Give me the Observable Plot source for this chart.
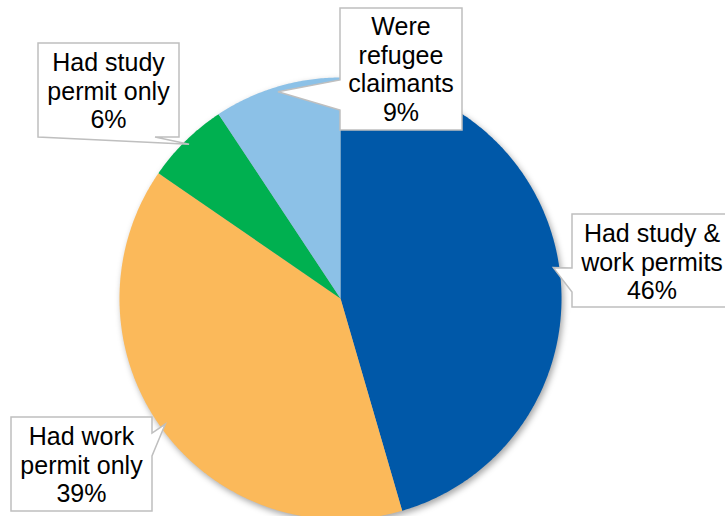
<!DOCTYPE html>
<html>
<head>
<meta charset="utf-8">
<script src="https://cdn.jsdelivr.net/npm/d3@7"></script>
<script src="https://cdn.jsdelivr.net/npm/@observablehq/plot@0.6"></script>
<style>
  html, body { margin: 0; padding: 0; background: #fff; }
  #chart svg { display: block; }
  #chart g[aria-label="line"] { filter: drop-shadow(2px 3px 3px rgba(0,0,0,0.35)); }
</style>
</head>
<body>
<div id="chart"></div>
<script>
// ---- data ----
const categories = ["Had study & work permits", "Had work permit only", "Had study permit only", "Were refugee claimants"];
const labelLines = [["Had study &", "work permits"], ["Had work", "permit only"], ["Had study", "permit only"], ["Were", "refugee", "claimants"]];
const values = [45.5, 39.1, 6.1, 9.3];
const colors = ["#0058A8", "#FBB95A", "#00B050", "#8CC1E7"];

// ---- layout (pixels) for the callout boxes; "TIP" = where the wedge points ----
const calloutShapes = [
  [[572,214],[732,214],[732,307],[572,307],[572,292],"TIP",[572,268]],
  [[11,417],[152,417],[152,433],"TIP",[152,456],[152,511],[11,511]],
  [[38,43],[179,43],[179,137],[155,137],"TIP",[38,137]],
  [[340,8],[462,8],[462,130],[340,130],[340,110],"TIP",[340,80]]
];
const calloutText = [[652,242],[81.5,445],[108.5,71],[401,35]]; // centre x, first baseline
const lineStep = 28.5;

// ---- geometry from data (unit circle, clockwise from 12 o'clock) ----
const total = d3.sum(values);
const slices = [];
let acc = 0;
values.forEach((v, i) => {
  const a0 = acc / total * 2 * Math.PI;
  acc += v;
  const a1 = acc / total * 2 * Math.PI;
  slices.push({i, a0, a1, mid: (a0 + a1) / 2});
});
const pts = [];
for (const s of slices) {
  pts.push({cat: categories[s.i], x: 0, y: 0});
  const n = Math.max(2, Math.ceil((s.a1 - s.a0) / (Math.PI / 360)));
  for (let k = 0; k <= n; k++) {
    const a = s.a0 + (s.a1 - s.a0) * k / n;
    pts.push({cat: categories[s.i], x: Math.sin(a), y: Math.cos(a)});
  }
  pts.push({cat: categories[s.i], x: 0, y: 0});
}

function callouts(index, scales) {
  const sx = scales.x, sy = scales.y;
  const g = d3.create("svg:g");
  slices.forEach((s, j) => {
    const tip = [sx(Math.sin(s.mid) * 0.975), sy(Math.cos(s.mid) * 0.975)];
    const poly = calloutShapes[j].map(p => p === "TIP" ? tip : p);
    g.append("path")
      .attr("d", "M" + poly.map(p => p.join(",")).join("L") + "Z")
      .attr("fill", "#fff")
      .attr("stroke", "#BFBFBF")
      .attr("stroke-width", 1.5);
    const lines = [...labelLines[j], Math.round(values[j]) + "%"];
    const [cx, by] = calloutText[j];
    lines.forEach((t, k) => {
      g.append("text")
        .attr("x", cx).attr("y", by + k * lineStep)
        .attr("text-anchor", "middle")
        .attr("font-family", "Liberation Sans, Arial, sans-serif")
        .attr("font-size", 25)
        .attr("fill", "#000")
        .text(t);
    });
  });
  return g.node();
}

const plot = Plot.plot({
  width: 725,
  height: 516,
  margin: 0,
  style: {background: "#fff", overflow: "hidden"},
  x: {domain: [-1, 1], range: [119, 561], axis: null},
  y: {domain: [-1, 1], range: [519, 77], axis: null},
  color: {domain: categories, range: colors},
  marks: [
    Plot.line(pts, {x: "x", y: "y", z: "cat", fill: "cat", stroke: "none", curve: "linear"}),
    callouts
  ]
});
document.getElementById("chart").appendChild(plot);
</script>
</body>
</html>
